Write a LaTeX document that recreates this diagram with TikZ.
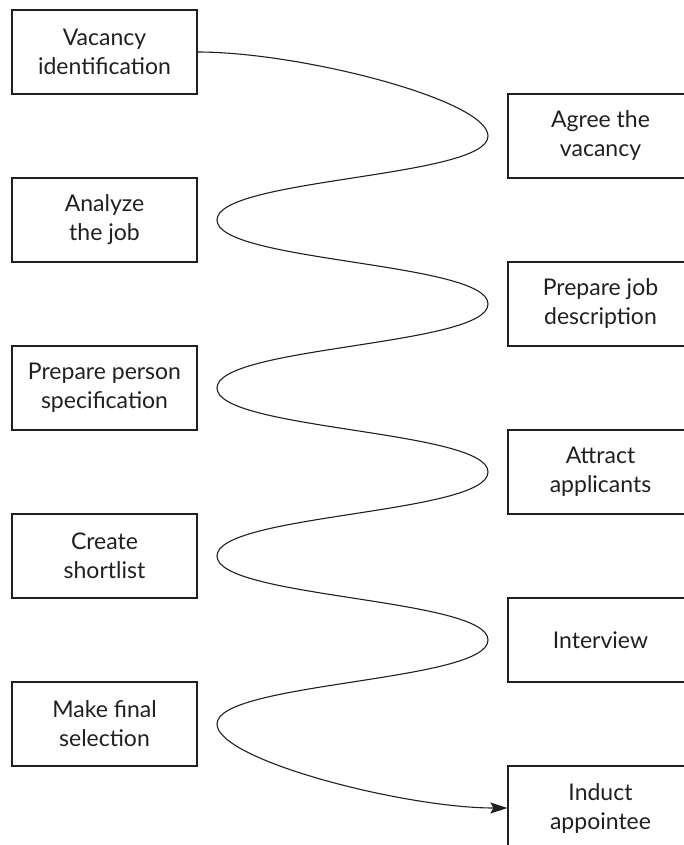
\documentclass[tikz,border=0pt]{standalone}
\usepackage{fontspec}
\setmainfont{Lato}
\usetikzlibrary{arrows.meta}
\definecolor{ink}{HTML}{231F20}
\tikzset{
  stepbox/.style={draw=ink, line width=1.2pt, minimum width=185pt, minimum height=84pt,
    inner sep=0pt, align=center, text=ink, font=\fontsize{23}{29}\selectfont},
  curve/.style={draw=ink, line width=1.1pt},
}
\begin{document}
\begin{tikzpicture}[x=1pt,y=-1pt]
\useasboundingbox (0,0) rectangle (684,845);
\clip (0,0) rectangle (684,845);
% left column
\node[stepbox] (v) at (104.5,52) {Vacancy\\identification};
\node[stepbox] (an) at (104.5,220) {Analyze\\the job};
\node[stepbox] (pp) at (104.5,388) {Prepare person\\specification};
\node[stepbox] (cs) at (104.5,556) {Create\\shortlist};
\node[stepbox] (mf) at (104.5,724) {Make final\\selection};
% right column
\node[stepbox] (ag) at (600.5,136) {Agree the\\vacancy};
\node[stepbox] (pj) at (600.5,304) {Prepare job\\description};
\node[stepbox] (at) at (600.5,472) {Attract\\applicants};
\node[stepbox] (iv) at (600.5,640) {Interview};
\node[stepbox] (in) at (600.5,808) {Induct\\appointee};
% turning points of the curve
\coordinate (t1) at (488,136);
\coordinate (t2) at (217,220);
\coordinate (t3) at (488,304);
\coordinate (t4) at (217,388);
\coordinate (t5) at (488,472);
\coordinate (t6) at (217,556);
\coordinate (t7) at (488,640);
\coordinate (t8) at (217,724);
\draw[curve, -{Stealth[length=17pt,width=11pt,inset=3pt]}]
  (v.east) .. controls +(103,0) and +(0,-36) .. (t1)
  .. controls +(0,42) and +(0,-42) .. (t2)
  .. controls +(0,42) and +(0,-42) .. (t3)
  .. controls +(0,42) and +(0,-42) .. (t4)
  .. controls +(0,42) and +(0,-42) .. (t5)
  .. controls +(0,42) and +(0,-42) .. (t6)
  .. controls +(0,42) and +(0,-42) .. (t7)
  .. controls +(0,42) and +(0,-42) .. (t8)
  .. controls +(0,36) and +(-103,0) .. (in.west);
\end{tikzpicture}
\end{document}
